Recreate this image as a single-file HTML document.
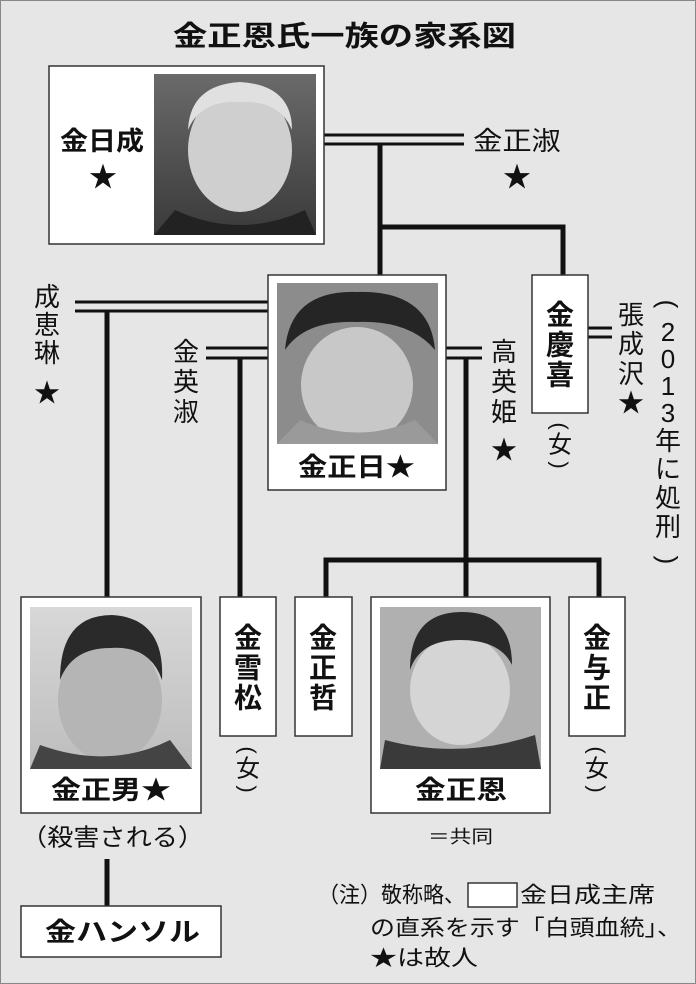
<!DOCTYPE html>
<html><head><meta charset="utf-8"><style>
html,body{margin:0;padding:0;background:#e6e6e6;}
svg{display:block;}
text{font-family:"Liberation Sans","Noto Sans CJK JP",sans-serif;fill:#111;}
.b{font-weight:bold;}
</style></head><body>
<svg width="696" height="984" viewBox="0 0 696 984" xmlns="http://www.w3.org/2000/svg">
<rect x="0" y="0" width="696" height="984" fill="#e6e6e6"/>
<rect x="0.5" y="0.5" width="695" height="983" fill="none" stroke="#888" stroke-width="1"/>

<text class="b" x="173" y="36" font-size="28" dominant-baseline="central" textLength="343" lengthAdjust="spacingAndGlyphs">金正恩氏一族の家系図</text>

<g stroke="#111" fill="none">
  <line x1="324" y1="135" x2="464" y2="135" stroke-width="3"/>
  <line x1="324" y1="144" x2="464" y2="144" stroke-width="3"/>
  <line x1="380" y1="144" x2="380" y2="275" stroke-width="5"/>
  <polyline points="380,227 563,227 563,275" stroke-width="5"/>
  <line x1="588" y1="328" x2="612" y2="328" stroke-width="3"/>
  <line x1="588" y1="337" x2="612" y2="337" stroke-width="3"/>
  <line x1="75" y1="302" x2="268" y2="302" stroke-width="3"/>
  <line x1="75" y1="311" x2="268" y2="311" stroke-width="3"/>
  <line x1="107" y1="311" x2="107" y2="597" stroke-width="5"/>
  <line x1="206" y1="348" x2="268" y2="348" stroke-width="3"/>
  <line x1="206" y1="358" x2="268" y2="358" stroke-width="3"/>
  <line x1="240" y1="358" x2="240" y2="597" stroke-width="5"/>
  <line x1="446" y1="348" x2="482" y2="348" stroke-width="3"/>
  <line x1="446" y1="358" x2="482" y2="358" stroke-width="3"/>
  <line x1="466" y1="358" x2="466" y2="597" stroke-width="5"/>
  <polyline points="326,597 326,560 599,560 599,597" stroke-width="5"/>
  <line x1="107" y1="859" x2="107" y2="906" stroke-width="5"/>
</g>

<defs>
  <linearGradient id="g1" x1="0" y1="0" x2="0" y2="1"><stop offset="0" stop-color="#6a6a6a"/><stop offset="1" stop-color="#3a3a3a"/></linearGradient>
  <linearGradient id="g2" x1="0" y1="0" x2="0" y2="1"><stop offset="0" stop-color="#d8d8d8"/><stop offset="1" stop-color="#bdbdbd"/></linearGradient>
</defs>

<rect x="49" y="66" width="275" height="178" fill="#fff" stroke="#333" stroke-width="1.5"/>
<rect x="154" y="74" width="162" height="161" fill="url(#g1)"/>
<ellipse cx="240" cy="150" rx="52" ry="62" fill="#cfcfcf"/>
<path d="M188 130 Q190 85 240 82 Q292 85 292 130 Q280 100 240 102 Q200 100 188 130Z" fill="#e0e0e0"/>
<path d="M154 235 L175 210 Q240 240 305 210 L316 235Z" fill="#222"/>
<text class="b" x="60" y="141" font-size="26" dominant-baseline="central" textLength="84" lengthAdjust="spacingAndGlyphs">金日成</text>
<text x="103" y="177" font-size="28" text-anchor="middle" dominant-baseline="central">★</text>
<text x="473" y="141" font-size="26" dominant-baseline="central" textLength="88" lengthAdjust="spacingAndGlyphs">金正淑</text>
<text x="517" y="177" font-size="28" text-anchor="middle" dominant-baseline="central">★</text>

<rect x="268" y="275" width="178" height="215" fill="#fff" stroke="#333" stroke-width="1.5"/>
<rect x="277" y="283" width="161" height="161" fill="#8c8c8c"/>
<ellipse cx="357" cy="385" rx="56" ry="58" fill="#c8c8c8"/>
<path d="M285 350 Q290 290 357 292 Q430 290 435 350 Q410 320 357 322 Q305 320 285 350Z" fill="#252525"/>
<path d="M277 444 L300 420 Q357 445 415 420 L438 444Z" fill="#9a9a9a"/>
<text class="b" x="298" y="467" font-size="26" dominant-baseline="central" textLength="117" lengthAdjust="spacingAndGlyphs">金正日★</text>

<rect x="532" y="275" width="56" height="138" fill="#fff" stroke="#333" stroke-width="1.5"/>
<g font-size="28" text-anchor="middle" dominant-baseline="central">
<text class="b" x="560" y="315">金</text><text class="b" x="560" y="345">慶</text><text class="b" x="560" y="375">喜</text>
</g>

<g font-size="22" text-anchor="middle" dominant-baseline="central">
<text transform="translate(560,426) rotate(90)" x="0" y="0">(</text>
<text x="560" y="445" font-size="24">女</text>
<text transform="translate(560,465) rotate(90)" x="0" y="0">)</text>
<text transform="translate(248,750) rotate(90)" x="0" y="0">(</text>
<text x="248" y="769" font-size="24">女</text>
<text transform="translate(248,789) rotate(90)" x="0" y="0">)</text>
<text transform="translate(597,750) rotate(90)" x="0" y="0">(</text>
<text x="597" y="769" font-size="24">女</text>
<text transform="translate(597,789) rotate(90)" x="0" y="0">)</text>
<text transform="translate(668,304) rotate(90)" x="0" y="0" font-size="26">(</text>
<text transform="translate(668,560) rotate(90)" x="0" y="0" font-size="26">)</text>
</g>

<g font-size="26" text-anchor="middle" dominant-baseline="central">
<text x="631" y="315">張</text><text x="631" y="344">成</text><text x="631" y="374">沢</text><text x="631" y="403">★</text>
<text x="668" y="332">2</text><text x="668" y="359">0</text><text x="668" y="386">1</text><text x="668" y="413">3</text><text x="668" y="441">年</text><text x="668" y="469">に</text><text x="668" y="498">処</text><text x="668" y="527">刑</text>
<text x="47" y="297">成</text><text x="47" y="325">恵</text><text x="47" y="353">琳</text><text x="47" y="393">★</text>
<text x="186" y="352">金</text><text x="186" y="382">英</text><text x="186" y="412">淑</text>
<text x="504" y="352">高</text><text x="504" y="382">英</text><text x="504" y="412">姫</text><text x="504" y="450">★</text>
</g>

<rect x="21" y="597" width="180" height="216" fill="#fff" stroke="#333" stroke-width="1.5"/>
<rect x="30" y="607" width="162" height="162" fill="url(#g2)"/>
<ellipse cx="110" cy="700" rx="52" ry="62" fill="#b5b5b5"/>
<path d="M60 680 Q60 615 112 615 Q165 618 162 680 Q150 645 110 648 Q72 648 60 680Z" fill="#2a2a2a"/>
<path d="M30 769 L40 745 Q110 770 170 740 L192 769Z" fill="#444"/>
<text class="b" x="51" y="790" font-size="26" dominant-baseline="central" textLength="120" lengthAdjust="spacingAndGlyphs">金正男★</text>

<rect x="220" y="597" width="56" height="139" fill="#fff" stroke="#333" stroke-width="1.5"/>
<rect x="295" y="597" width="57" height="139" fill="#fff" stroke="#333" stroke-width="1.5"/>
<rect x="569" y="597" width="56" height="139" fill="#fff" stroke="#333" stroke-width="1.5"/>
<g font-size="28" text-anchor="middle" dominant-baseline="central">
<text class="b" x="248" y="638">金</text><text class="b" x="248" y="668">雪</text><text class="b" x="248" y="698">松</text>
<text class="b" x="323" y="638">金</text><text class="b" x="323" y="668">正</text><text class="b" x="323" y="698">哲</text>
<text class="b" x="597" y="638">金</text><text class="b" x="597" y="668">与</text><text class="b" x="597" y="698">正</text>
</g>

<rect x="371" y="597" width="179" height="216" fill="#fff" stroke="#333" stroke-width="1.5"/>
<rect x="380" y="607" width="161" height="162" fill="#b0b0b0"/>
<ellipse cx="460" cy="690" rx="50" ry="55" fill="#d5d5d5"/>
<path d="M410 670 Q410 612 462 612 Q512 612 512 665 Q500 640 460 640 Q420 640 410 670Z" fill="#2a2a2a"/>
<path d="M380 769 L385 740 Q460 760 535 735 L541 769Z" fill="#3a3a3a"/>
<text class="b" x="415" y="790" font-size="26" dominant-baseline="central" textLength="92" lengthAdjust="spacingAndGlyphs">金正恩</text>
<text x="428" y="837" font-size="18" dominant-baseline="central" textLength="65" lengthAdjust="spacingAndGlyphs">＝共同</text>

<text x="21" y="838" font-size="24" dominant-baseline="central" textLength="183" lengthAdjust="spacingAndGlyphs">（殺害される）</text>

<rect x="21" y="906" width="200" height="51" fill="#fff" stroke="#333" stroke-width="1.5"/>
<text class="b" x="45" y="932" font-size="26" dominant-baseline="central" textLength="155" lengthAdjust="spacingAndGlyphs">金ハンソル</text>

<text x="318" y="895" font-size="22" dominant-baseline="central" textLength="147" lengthAdjust="spacingAndGlyphs">（注）敬称略、</text>
<rect x="468" y="883" width="49" height="24" fill="#fff" stroke="#333" stroke-width="1.5"/>
<text x="520" y="895" font-size="22" dominant-baseline="central" textLength="135" lengthAdjust="spacingAndGlyphs">金日成主席</text>
<text x="370" y="928" font-size="22" dominant-baseline="central" textLength="312" lengthAdjust="spacingAndGlyphs">の直系を示す「白頭血統」、</text>
<text x="370" y="958" font-size="22" dominant-baseline="central" textLength="108" lengthAdjust="spacingAndGlyphs">★は故人</text>
</svg>
</body></html>
